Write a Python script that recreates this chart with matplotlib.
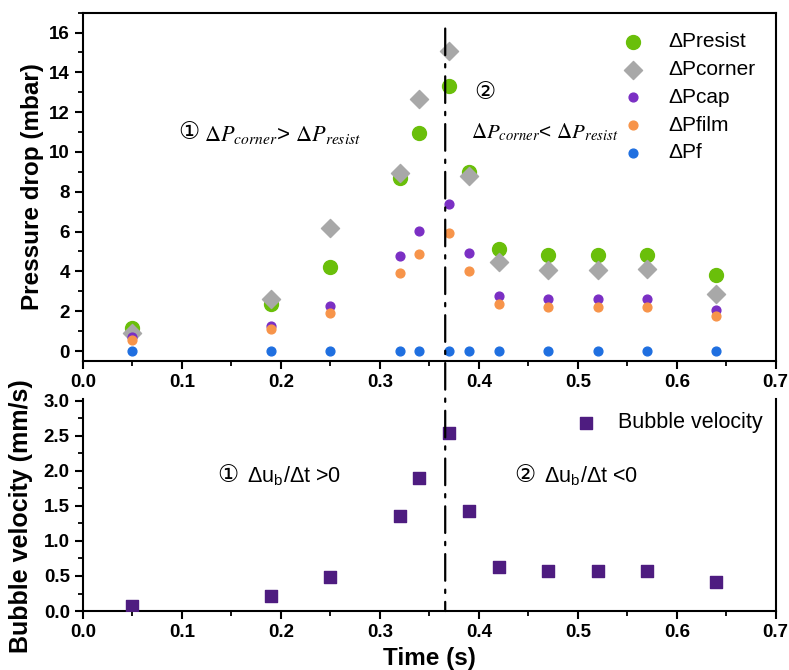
import matplotlib
matplotlib.use("Agg")
import matplotlib.pyplot as plt
from matplotlib.patches import ConnectionPatch
from matplotlib.ticker import MultipleLocator

plt.rcParams['font.family'] = ['Liberation Sans', 'DejaVu Sans']
plt.rcParams['mathtext.fontset'] = 'stix'

# data
time = [0.05, 0.19, 0.25, 0.32, 0.34, 0.37, 0.39, 0.42, 0.47, 0.52, 0.57, 0.64]
p_resist = [1.15, 2.35, 4.2, 8.7, 10.95, 13.3, 9.0, 5.15, 4.8, 4.8, 4.8, 3.8]
p_corner = [0.9, 2.6, 6.2, 8.95, 12.65, 15.05, 8.8, 4.45, 4.05, 4.05, 4.1, 2.85]
p_cap = [0.7, 1.25, 2.25, 4.75, 6.05, 7.4, 4.9, 2.75, 2.6, 2.6, 2.6, 2.05]
p_film = [0.55, 1.1, 1.9, 3.9, 4.85, 5.95, 4.0, 2.35, 2.2, 2.2, 2.2, 1.75]
p_f = [0, 0, 0, 0, 0, 0, 0, 0, 0, 0, 0, 0]
velocity = [0.07, 0.21, 0.48, 1.36, 1.9, 2.54, 1.43, 0.63, 0.57, 0.57, 0.57, 0.41]
t_switch = 0.366

fig = plt.figure(figsize=(7.89, 6.7), dpi=100)
ax1 = fig.add_axes([0.1052, 0.4612, 0.878, 0.520])
ax2 = fig.add_axes([0.1052, 0.088, 0.878, 0.316])

ax1.scatter(time, p_resist, s=100, color='#6abf0a', marker='o', label='ΔPresist', zorder=3)
ax1.scatter(time, p_corner, s=85, color='#a8a8a8', marker='D', label='ΔPcorner', zorder=3)
ax1.scatter(time, p_cap, s=40, color='#7b2fc4', marker='o', label='ΔPcap', zorder=3)
ax1.scatter(time, p_film, s=40, color='#f7944a', marker='o', label='ΔPfilm', zorder=3)
ax1.scatter(time, p_f, s=40, color='#1f6fe0', marker='o', label='ΔPf', zorder=3)

ax2.scatter(time, velocity, s=85, color='#4e1c80', marker='s', label='Bubble velocity', zorder=3)

ax1.set_xlim(0, 0.7)
ax1.set_ylim(-0.5, 17)
ax2.set_xlim(0, 0.7)
ax2.set_ylim(0, 3.02)

ax1.yaxis.set_major_locator(MultipleLocator(2))
ax1.yaxis.set_minor_locator(MultipleLocator(1))
ax2.yaxis.set_major_locator(MultipleLocator(0.5))
ax2.yaxis.set_minor_locator(MultipleLocator(0.25))
for ax in (ax1, ax2):
    ax.xaxis.set_major_locator(MultipleLocator(0.1))
    ax.xaxis.set_minor_locator(MultipleLocator(0.05))
    ax.tick_params(which='major', direction='out', length=6, width=1.5, labelsize=13.5)
    ax.tick_params(which='minor', direction='out', length=3.5, width=1.3)
    for lab in ax.get_xticklabels() + ax.get_yticklabels():
        lab.set_fontweight('bold')
    for sp in ax.spines.values():
        sp.set_linewidth(1.5)
ax2.spines['top'].set_visible(False)

ax1.set_ylabel('Pressure drop (mbar)', fontsize=17.5, fontweight='bold', labelpad=4)
ax2.set_ylabel('Bubble velocity (mm/s)', fontsize=18, fontweight='bold')
ax2.yaxis.set_label_coords(-0.072, 0.45)
ax2.set_xlabel('Time (s)', fontsize=17.5, fontweight='bold', labelpad=4)

ax1.legend(loc='upper right', frameon=False, fontsize=15, handletextpad=0.7,
           labelspacing=0.42, borderaxespad=0.55, bbox_to_anchor=(1.0, 1.0))
ax2.legend(loc='upper right', frameon=False, fontsize=15.5, handletextpad=0.5,
           borderaxespad=0.2)

# dash-dot divider through both panels
con = ConnectionPatch(xyA=(t_switch, 16.2), coordsA=ax1.transData,
                      xyB=(t_switch, 0), coordsB=ax2.transData,
                      linestyle=(0, (12, 4, 1.5, 4)), color='black', linewidth=1.6)
fig.add_artist(con)

ax1.text(0.096, 11.0, '①', fontsize=17, family=['DejaVu Sans'], va='center')
ax1.text(0.122, 10.85, r'$\Delta P_{corner}$> $\Delta P_{resist}$', fontsize=16, va='center')
ax1.text(0.395, 13.0, '②', fontsize=17, family=['DejaVu Sans'], va='center')
ax1.text(0.392, 11.0, r'$\Delta P_{corner}$< $\Delta P_{resist}$', fontsize=15, va='center')

ax2.text(0.136, 1.94, '①', fontsize=17, family=['DejaVu Sans'], va='center')
ax2.text(0.166, 1.94, r'Δu$_\mathregular{b}$/Δt >0', fontsize=15.5, va='center')
ax2.text(0.436, 1.94, '②', fontsize=17, family=['DejaVu Sans'], va='center')
ax2.text(0.466, 1.94, r'Δu$_\mathregular{b}$/Δt <0', fontsize=15.5, va='center')

fig.savefig('out.png', dpi=100)
